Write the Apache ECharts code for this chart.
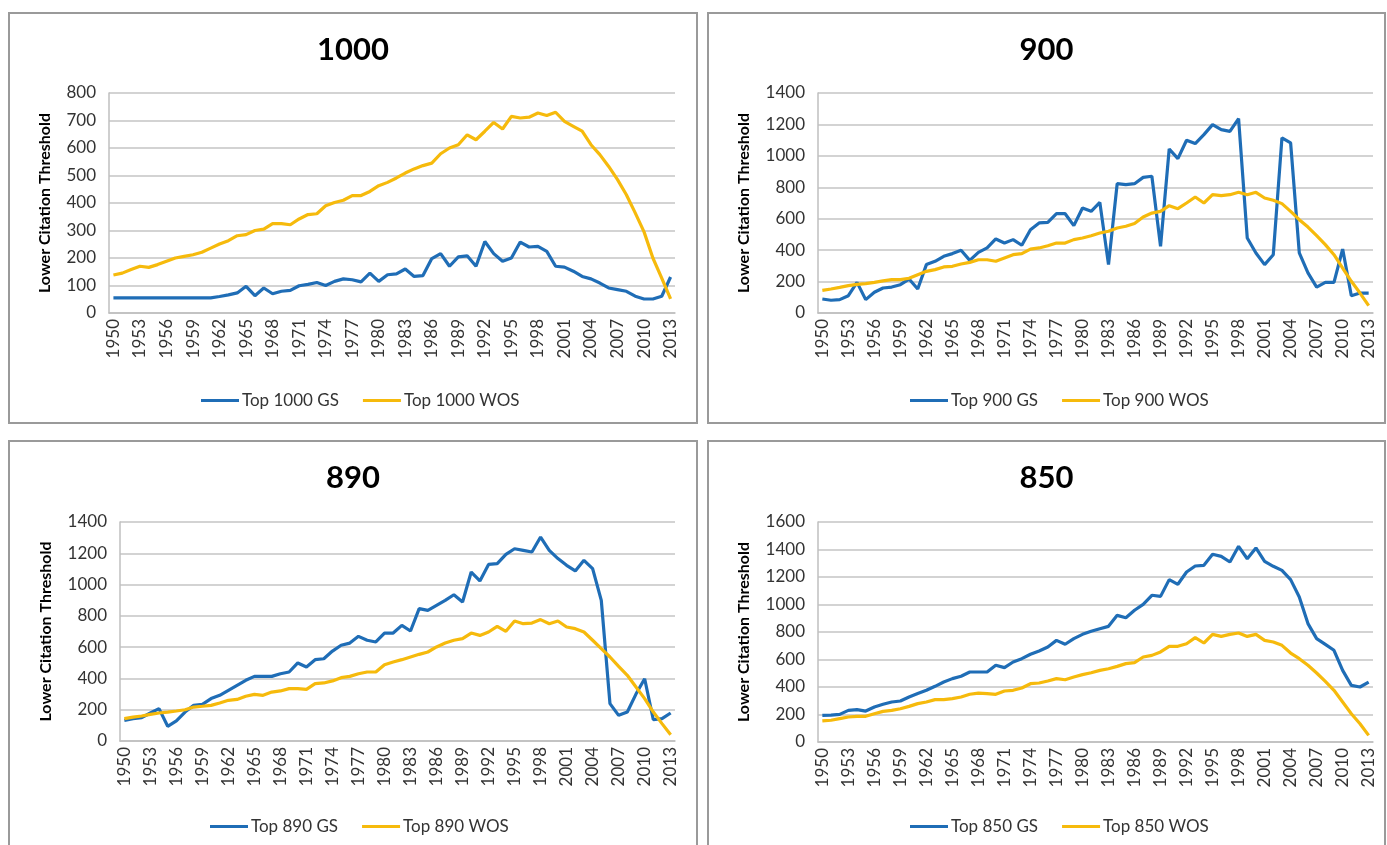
<!DOCTYPE html>
<html>
<head>
<meta charset="utf-8">
<script src="https://cdn.jsdelivr.net/npm/echarts@6/dist/echarts.min.js"></script>
<style>
  html, body { margin: 0; padding: 0; background: #fff; }
  #main { width: 1387px; height: 845px; }
</style>
</head>
<body>
<div id="main"></div>
<script>
// years on the category axis
var years = [];
for (var y = 1950; y <= 2013; y++) years.push(String(y));

// Top 1000
var gs1000 = [55,55,55,55,55,55,55,55,55,55,55,55,
  60,66,73,97,63,91,70,79,
  82,99,104,111,100,115,124,121,113,145,
  115,139,142,160,133,136,198,216,170,204,
  208,170,260,216,188,200,258,240,242,224,
  170,167,152,133,124,109,91,85,79,61,
  51,51,61,131];
var wos1000 = [138,145,158,170,166,176,188,200,206,212,
  221,236,251,263,281,285,300,305,325,325,
  321,342,358,361,390,402,410,427,427,442,
  463,475,491,509,524,536,545,579,600,612,
  648,630,661,693,669,715,709,712,727,718,
  730,697,679,661,612,576,533,485,430,364,
  295,200,127,51];

// Top 900
var gs900 = [89,81,85,110,195,85,132,159,165,180,
  216,153,308,329,361,378,399,335,386,414,
  471,445,467,431,530,573,577,632,632,556,
  668,647,704,308,823,817,823,863,870,424,
  1044,982,1099,1078,1135,1199,1167,1156,1237,477,
  382,308,371,1114,1082,382,255,165,195,195,
  407,110,127,127];
var wos900 = [144,153,163,174,182,187,195,204,212,212,
  221,244,265,276,293,297,312,322,339,339,
  329,350,371,378,407,414,428,445,445,467,
  477,492,509,520,541,552,569,611,636,647,
  683,664,700,738,700,753,747,753,768,753,
  768,732,717,696,647,594,547,492,435,371,
  286,202,127,47];

// Top 890
var gs890 = [132,143,149,179,207,94,128,185,228,234,
  271,292,324,356,388,413,413,413,430,441,
  499,473,520,526,575,612,626,669,644,633,
  690,690,739,703,846,835,867,899,935,889,
  1080,1023,1129,1134,1193,1229,1219,1208,1304,1219,
  1166,1123,1087,1155,1102,899,239,164,185,300,
  398,136,143,179];
var wos890 = [143,153,160,170,179,185,192,200,217,222,
  228,243,260,266,286,298,292,313,320,335,
  335,330,367,371,384,405,413,430,441,441,
  488,505,520,537,554,569,601,626,644,654,
  690,675,697,733,701,767,750,754,776,750,
  767,729,718,697,644,590,537,477,420,345,
  271,185,111,40];

// Top 850
var gs850 = [194,196,201,230,235,225,255,274,291,298,
  327,352,376,405,436,461,478,509,509,509,
  558,541,582,606,638,662,691,739,711,752,
  783,805,824,841,921,904,958,1001,1067,1059,
  1181,1147,1236,1280,1285,1365,1350,1309,1423,1333,
  1411,1314,1278,1248,1181,1055,861,752,710,667,
  521,412,400,436];
var wos850 = [153,158,170,182,187,187,206,223,230,242,
  259,279,291,308,308,315,327,347,356,352,
  347,371,376,393,424,429,444,461,453,473,
  490,504,521,533,550,570,577,618,630,655,
  696,696,715,759,720,783,768,783,793,768,
  783,739,727,703,647,606,558,502,441,376,
  291,206,133,48];

var FONT = 'Lato, "Open Sans", sans-serif';
var BLUE = '#1f6db6';
var GOLD = '#f6ba0c';

var panels = [
  { title: '1000', gs: gs1000, wos: wos1000, max: 800, step: 100,
    box: [9, 13, 688, 410], grid: [109, 93, 566, 220], nameGap: 56, legend: [196, 387] },
  { title: '900', gs: gs900, wos: wos900, max: 1400, step: 200,
    box: [708, 13, 677, 410], grid: [818, 93, 555, 220], nameGap: 66, legend: [905, 387] },
  { title: '890', gs: gs890, wos: wos890, max: 1400, step: 200,
    box: [9, 441, 688, 420], grid: [120, 522, 555, 219], nameGap: 66, legend: [205, 813] },
  { title: '850', gs: gs850, wos: wos850, max: 1600, step: 200,
    box: [708, 441, 677, 420], grid: [818, 522, 555, 220], nameGap: 66, legend: [905, 813] }
];

var grids = [], xAxes = [], yAxes = [], series = [], legends = [], graphics = [];

panels.forEach(function (p, i) {
  var b = p.box;
  graphics.push({
    type: 'rect', shape: { x: b[0], y: b[1], width: b[2], height: b[3] },
    style: { fill: '#fff', stroke: '#9a9a9a', lineWidth: 2 }, z: -10
  });
  graphics.push({
    type: 'text', x: b[0] + b[2] / 2, y: b[1] + 37,
    style: { text: p.title, font: 'bold 31px ' + FONT, fill: '#000',
             align: 'center', verticalAlign: 'middle' }
  });

  grids.push({ left: p.grid[0], top: p.grid[1], width: p.grid[2], height: p.grid[3] });

  xAxes.push({
    type: 'category', gridIndex: i, data: years, boundaryGap: true,
    axisLine: { lineStyle: { color: '#bfbfbf', width: 1.5 } },
    axisTick: { show: false },
    axisLabel: { interval: 2, rotate: 90, margin: 6, fontSize: 17,
                 color: '#333', fontFamily: FONT }
  });

  yAxes.push({
    type: 'value', gridIndex: i, min: 0, max: p.max, interval: p.step,
    name: 'Lower Citation Threshold', nameLocation: 'middle', nameRotate: 90,
    nameGap: p.nameGap,
    nameTextStyle: { fontSize: 16, fontWeight: 'bold', color: '#000', fontFamily: FONT },
    axisLine: { show: true, lineStyle: { color: '#bfbfbf', width: 1.5 } },
    axisTick: { show: false },
    splitLine: { lineStyle: { color: '#c4c4c4', width: 1.5 } },
    axisLabel: { fontSize: 17, color: '#333', margin: 13, fontFamily: FONT,
                 formatter: function (v) { return String(v); } }
  });

  var gsName = 'Top ' + p.title + ' GS';
  var wosName = 'Top ' + p.title + ' WOS';
  series.push({
    name: gsName, type: 'line', xAxisIndex: i, yAxisIndex: i, data: p.gs,
    showSymbol: false, symbol: 'none', color: BLUE,
    lineStyle: { color: BLUE, width: 3.2 }
  });
  series.push({
    name: wosName, type: 'line', xAxisIndex: i, yAxisIndex: i, data: p.wos,
    showSymbol: false, symbol: 'none', color: GOLD,
    lineStyle: { color: GOLD, width: 3.2 }
  });

  legends.push({
    data: [gsName, wosName], left: p.legend[0], top: p.legend[1],
    icon: 'rect', itemWidth: 38, itemHeight: 3, itemGap: 24,
    textStyle: { fontSize: 17, color: '#333', fontFamily: FONT, padding: [0, 0, 0, -2] }
  });
});

var chart = echarts.init(document.getElementById('main'));
chart.setOption({
  backgroundColor: '#fff',
  animation: false,
  graphic: graphics,
  grid: grids,
  xAxis: xAxes,
  yAxis: yAxes,
  legend: legends,
  series: series
});
</script>
</body>
</html>
